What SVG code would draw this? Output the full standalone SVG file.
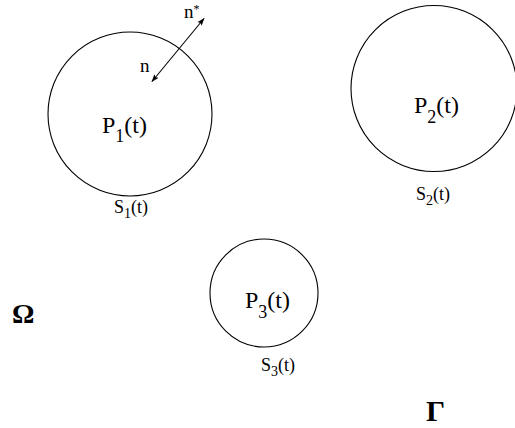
<svg xmlns="http://www.w3.org/2000/svg" width="515" height="428" viewBox="0 0 515 428">
<defs>
<style>
.c{fill:none;stroke:#000;stroke-width:1.1}
.lbl{font-family:"Liberation Serif","Times New Roman",serif;fill:#000}
.p{font-size:24px}
.s{font-size:18px}
.n{font-size:19px}
.g{font-family:"Liberation Serif","Times New Roman",serif;font-weight:bold;fill:#000}
</style>
<marker id="ah" viewBox="0 0 10 10" refX="9" refY="5" markerWidth="8" markerHeight="8" orient="auto-start-reverse" markerUnits="userSpaceOnUse">
<path d="M0,1.5 L10,5 L0,8.5 L2,5 Z" fill="#000"/>
</marker>
</defs>
<rect width="515" height="428" fill="#fff"/>
<g id="P1">
<circle class="c" cx="130" cy="114" r="82"/>
<text class="lbl p" x="102" y="133">P<tspan font-size="18" dy="9">1</tspan><tspan dy="-9">(t)</tspan></text>
<text class="lbl s" x="114" y="213">S<tspan font-size="14" dy="5">1</tspan><tspan dy="-5">(t)</tspan></text>
</g>
<g id="P2">
<circle class="c" cx="434" cy="88.5" r="83"/>
<text class="lbl p" x="414" y="113">P<tspan font-size="18" dy="10">2</tspan><tspan dy="-10">(t)</tspan></text>
<text class="lbl s" x="416" y="200">S<tspan font-size="14" dy="5">2</tspan><tspan dy="-5">(t)</tspan></text>
</g>
<g id="P3">
<circle class="c" cx="264" cy="293" r="54"/>
<text class="lbl p" x="245" y="308">P<tspan font-size="18" dy="10">3</tspan><tspan dy="-10">(t)</tspan></text>
<text class="lbl s" x="261" y="371">S<tspan font-size="14" dy="5">3</tspan><tspan dy="-5">(t)</tspan></text>
</g>
<g id="connectors">
<line x1="152" y1="81.5" x2="204" y2="18.5" stroke="#000" stroke-width="1.1" marker-start="url(#ah)" marker-end="url(#ah)"/>
</g>
<g id="normals">
<text class="lbl n" x="184" y="18">n<tspan font-size="12" dy="-5">*</tspan></text>
<text class="lbl n" x="140" y="72">n</text>
</g>
<g id="domains">
<text class="g" x="12" y="323" font-size="28">Ω</text>
<text class="g" x="426" y="421" font-size="30">Γ</text>
</g>
</svg>
